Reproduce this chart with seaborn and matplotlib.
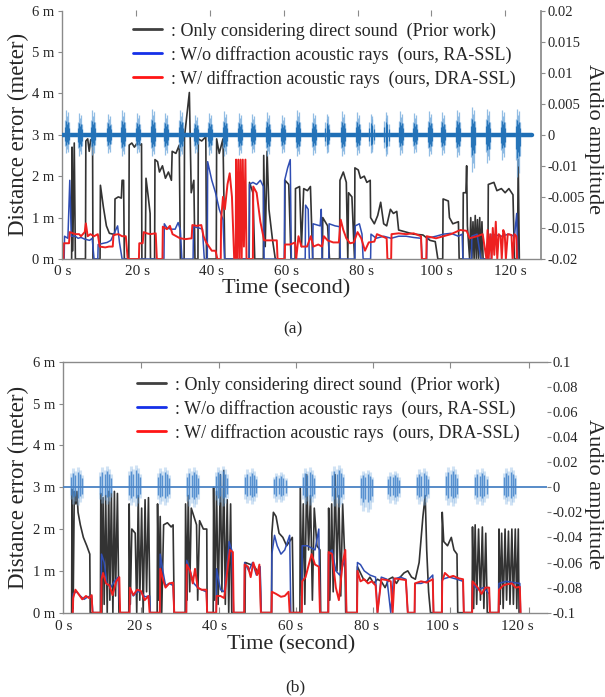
import numpy as np
import pandas as pd
import seaborn as sns
import matplotlib.pyplot as plt
from matplotlib.lines import Line2D

# ---- panel (a) : distance error (t [s], error [m]) ----
gray_a = [(2.5, 0), (2.6, 2.7), (2.8, 0.2), (3.2, 2.8), (3.5, 0),
          (6.2, 0), (6.3, 2.85), (6.8, 2.9), (7.2, 2.6), (7.6, 2.88), (8.1, 2.85), (8.2, 0),
          (10.1, 0), (10.2, 1.78), (11.0, 1.25), (11.8, 0.8), (12.6, 0.62), (13.6, 0.6), (14.0, 0.58),
          (14.1, 1.45), (15.0, 1.5), (15.8, 1.47), (16.0, 1.9), (16.4, 1.9), (16.6, 0),
          (17.8, 0), (17.9, 2.75), (18.6, 2.8), (19.3, 2.7), (20.0, 2.8), (20.7, 2.75), (21.2, 2.78), (21.3, 0),
          (22.2, 0), (22.4, 1.95), (23.0, 1.5), (23.5, 1.1), (23.6, 0),
          (24.7, 0), (24.8, 2.4), (25.5, 2.35), (26.0, 2.1), (26.8, 2.25), (27.6, 1.95), (28.4, 2.1),
          (29.2, 1.9), (29.4, 2.6), (30.4, 2.55), (31.3, 2.75), (31.6, 0),
          (32.6, 0), (32.7, 2.95), (33.5, 3.6), (34.0, 4.02), (34.5, 1.6), (35.2, 1.9), (35.5, 0),
          (36.3, 0), (36.4, 2.9), (37.3, 2.85), (38.4, 2.95), (38.6, 0),
          (41.2, 0), (41.3, 2.9), (42.0, 2.55), (43.0, 2.9), (43.5, 0),
          (50.0, 0), (50.1, 1.85), (51.0, 1.6), (51.5, 0),
          (53.8, 0), (53.9, 2.5), (54.3, 0.3), (54.8, 2.6), (55.3, 1.2), (56.2, 0.5), (57.0, 0),
          (59.5, 0), (59.6, 1.9), (60.6, 1.8), (61.2, 0),
          (62.3, 0), (62.4, 1.7), (63.5, 1.75), (64.0, 0.3), (64.6, 1.7), (65.6, 1.65), (66.4, 1.75), (67.0, 0),
          (69.6, 0), (69.7, 1.0), (71.0, 0.8), (71.5, 0),
          (74.2, 0), (74.3, 1.9), (75.2, 2.1), (76.0, 1.85), (76.4, 0), (76.6, 1.6), (77.5, 1.5), (78.2, 0),
          (78.3, 2.2), (79.2, 2.15), (79.8, 1.95), (80.8, 2.0), (81.5, 1.85), (82.4, 1.9), (82.5, 1.0),
          (83.5, 0.85), (84.4, 1.05), (85.2, 1.37), (86.0, 0.85), (86.8, 0.8), (87.8, 1.2),
          (88.6, 1.1), (89.5, 1.15), (90.0, 0.7), (92.0, 0.65), (94.0, 0.6), (96.5, 0.58), (98.4, 0.45),
          (99.8, 0.42), (100.5, 0),
          (101.8, 0), (101.9, 1.45), (103.3, 1.4), (103.6, 1.0), (104.5, 0.85), (106.0, 0.9), (106.2, 0),
          (107.2, 0), (107.3, 1.6), (108.0, 1.6), (108.2, 2.25), (108.4, 0.8), (109.0, 0), (109.3, 1.0),
          (109.6, 0), (109.9, 0.9), (110.2, 0), (110.5, 1.05), (110.8, 0), (111.1, 0.95), (111.4, 0),
          (111.7, 1.0), (112.0, 0), (112.3, 0.9), (112.6, 0),
          (113.9, 0), (114.0, 1.8), (115.5, 1.85), (116.3, 1.65), (117.5, 1.7), (118.5, 1.6), (119.5, 1.7),
          (120.6, 1.55), (121.0, 0), (121.8, 0), (122.0, 2.4), (122.3, 0)]

blue_a = [(0.5, 0), (0.6, 0.55), (1.5, 0.5), (2.0, 1.9), (2.4, 0.55), (3.5, 0.55), (4.2, 0.5), (5.0, 0.52),
          (6.0, 0.48), (7.3, 0.45), (8.0, 0.5), (8.5, 0),
          (9.5, 0), (9.6, 0.35), (11.0, 0.38), (12.0, 0.4), (13.0, 0.45), (14.8, 0.8), (15.3, 0.4), (16.0, 0),
          (27.2, 0), (27.3, 0.85), (28.0, 0.75), (29.0, 0.72), (30.2, 0.72), (31.0, 0.88), (31.6, 0.7), (32.0, 0),
          (35.0, 0), (35.1, 0.78), (36.5, 0.75), (37.5, 0.72), (38.0, 0),
          (38.8, 0), (38.9, 2.35), (40.0, 1.9), (41.0, 1.6), (42.0, 1.2), (43.0, 0.95), (43.4, 0),
          (50.0, 0), (50.1, 1.8), (51.0, 1.85), (52.0, 1.8), (53.0, 1.9), (53.8, 1.75), (54.0, 0),
          (59.4, 0), (59.5, 1.9), (60.3, 2.2), (61.0, 2.4), (61.3, 0),
          (65.0, 0), (65.1, 1.3), (65.8, 1.2), (66.1, 0),
          (67.0, 0), (67.1, 0.85), (69.0, 0.8), (69.3, 1.2), (69.5, 0),
          (71.3, 0), (71.4, 0.85), (73.0, 0.8), (74.2, 0.78), (74.4, 0),
          (78.3, 0), (78.4, 0.8), (79.5, 0.85), (80.2, 0.6), (80.5, 0),
          (82.5, 0), (82.6, 0.6), (84.0, 0.5), (86.0, 0.55), (88.0, 0.5), (90.0, 0.55), (92.0, 0.55),
          (94.0, 0.52), (96.0, 0.5), (96.3, 0),
          (97.5, 0), (97.6, 0.5), (100.0, 0.55), (102.0, 0.6), (104.0, 0.62), (106.0, 0.55), (107.0, 0.6), (107.2, 0),
          (109.5, 0), (109.6, 0.55), (111.0, 0.6), (112.0, 0),
          (114.8, 0), (115.0, 0.6), (117.5, 0.55), (119.5, 0.6), (121.0, 0.55), (121.6, 1.1), (121.9, 0)]

red_a = [(0.3, 0), (0.4, 0.38), (1.8, 0.38), (2.0, 0.65), (3.5, 0.6), (4.5, 0.6), (5.0, 0.55), (6.0, 0.65),
         (6.3, 0.86), (6.8, 0.55), (7.5, 0.6), (8.5, 0.55), (9.5, 0.6), (10.0, 0.3), (11.5, 0.28), (12.5, 0.3),
         (13.5, 0.3), (13.7, 0.58), (15.0, 0.6), (16.0, 0.55), (17.0, 0.55), (17.5, 0),
         (20.5, 0), (20.6, 0.38), (21.5, 0.38), (21.8, 0.65), (22.6, 0.62), (23.5, 0.6), (25.0, 0.62), (25.3, 0),
         (26.8, 0), (26.9, 0.78), (28.0, 0.72), (28.8, 0.8), (29.5, 0.6), (30.5, 0.55), (31.5, 0.5), (33.0, 0.48),
         (34.6, 0.5), (34.8, 0.82), (36.0, 0.8), (37.2, 0.82), (37.8, 0.55), (38.5, 0.4), (40.0, 0.2), (41.0, 0.2),
         (41.5, 0),
         (42.4, 0), (42.5, 0.95), (43.0, 1.5), (43.5, 1.2), (44.2, 1.8), (44.8, 2.07), (45.4, 1.5), (46.0, 0),
         (46.4, 0), (46.5, 2.4), (46.8, 0), (47.1, 2.4), (47.4, 0), (47.7, 2.4), (48.0, 0), (48.3, 2.4),
         (48.6, 0.3), (49.0, 2.4), (49.3, 0),
         (51.0, 0), (51.1, 1.75), (52.0, 1.6), (53.0, 0.9), (54.0, 0.45), (55.5, 0.45), (57.4, 0.45), (57.6, 0),
         (59.5, 0), (59.6, 0.35), (61.0, 0.35), (62.3, 0.4), (62.6, 0), (63.2, 0.55), (64.0, 0.3), (65.5, 0.3),
         (66.5, 0.55), (67.2, 0.3), (68.5, 0.35), (69.5, 0.3), (70.0, 0.55), (71.0, 0.45), (72.5, 0.4),
         (74.0, 0.4), (74.5, 0.95), (75.2, 0.7), (76.0, 0.5), (77.0, 0.38), (78.0, 0.4), (79.0, 0.65),
         (80.0, 0.5), (81.0, 0.2), (82.0, 0.4), (83.5, 0.42), (84.2, 0.6), (85.5, 0.55), (86.8, 0.5), (87.0, 0),
         (88.0, 0), (88.1, 0.6), (90.0, 0.62), (92.0, 0.6), (94.0, 0.62), (96.0, 0.55), (96.2, 0),
         (97.4, 0), (97.5, 0.55), (100.0, 0.5), (102.0, 0.55), (104.0, 0.6), (106.5, 0.7), (108.2, 0.68),
         (109.0, 0.5), (111.0, 0.55), (112.5, 0.6), (113.5, 0),
         (113.8, 0.7), (114.1, 0), (114.5, 0.6), (114.9, 0), (115.2, 0.75), (115.6, 0.1), (116.0, 0.9),
         (116.4, 0), (116.8, 0.6), (117.3, 0.55), (117.6, 0), (118.0, 0.7), (118.4, 0.6), (118.7, 0),
         (119.2, 0.6), (120.2, 0.58), (120.5, 0), (121.0, 0.6), (121.5, 0.55), (121.7, 0)]

# audio (a): burst centres [s], upper / lower peak amplitude
audio_a_t = [1.2, 4.7, 8.3, 12.5, 16.3, 20.3, 24.4, 27.9, 31.9, 35.9, 39.5, 43.5, 47.5, 51.1, 55.1, 59.1,
             63.1, 67.4, 71.0, 75.2, 79.2, 82.8, 86.8, 90.8, 94.4, 98.4, 102.0, 106.0, 110.0, 114.0, 118.0, 122.1]
audio_a_hi = [0.004, 0.0035, 0.004, 0.0033, 0.004, 0.0035, 0.0042, 0.0035, 0.004, 0.0032, 0.0035, 0.0038,
              0.0035, 0.0033, 0.0036, 0.0032, 0.004, 0.0035, 0.0033, 0.0038, 0.0036, 0.0033, 0.0036, 0.0038,
              0.0035, 0.0038, 0.0036, 0.004, 0.0045, 0.0042, 0.004, 0.0042]
audio_a_lo = [0.003, 0.0035, 0.0032, 0.003, 0.0035, 0.003, 0.0035, 0.0032, 0.0035, 0.003, 0.0032, 0.0035,
              0.0032, 0.003, 0.0035, 0.003, 0.0035, 0.0032, 0.003, 0.0035, 0.0033, 0.003, 0.0035, 0.0033,
              0.003, 0.0035, 0.0033, 0.0036, 0.006, 0.0045, 0.004, 0.0068]
audio_a_off = [-0.6, -0.3, -0.05, 0.2, 0.5]
audio_a_rel = [0.6, 1.0, 0.75, 0.9, 0.5]
audio_a_span = (0.0, 125.8)

# ---- panel (b) ----
gray_b = [(2.2, 0), (2.3, 2.95), (2.6, 0.1), (2.9, 2.9), (3.3, 2.6), (3.6, 2.9), (3.9, 2.4), (4.5, 2.1),
          (5.3, 1.8), (6.2, 1.6), (7.0, 1.4), (7.1, 0),
          (9.8, 0), (9.9, 2.85), (10.2, 0), (10.5, 2.75), (10.8, 0.2), (11.2, 2.8), (11.6, 0), (12.0, 2.9),
          (12.3, 0.3), (12.7, 2.85), (13.1, 0), (13.5, 2.9), (13.8, 0.4), (14.3, 2.85), (14.7, 0),
          (17.3, 0), (17.4, 2.6), (17.7, 0.2), (18.1, 2.0), (19.0, 1.9), (19.4, 0), (19.8, 2.8), (20.2, 0.3),
          (20.7, 2.5), (21.1, 0), (21.6, 2.7), (22.0, 0.5), (22.5, 2.75), (22.9, 0),
          (24.8, 0), (24.9, 2.6), (25.2, 0.3), (25.6, 2.3), (26.0, 0), (26.5, 2.1), (27.5, 2.15), (28.5, 2.05),
          (29.0, 2.1), (29.3, 0),
          (32.2, 0), (32.3, 2.6), (32.7, 0.3), (33.0, 2.8), (33.4, 0.5), (33.8, 2.5), (34.5, 2.3), (35.2, 2.1),
          (35.5, 0.3), (36.0, 2.2), (37.0, 2.0), (37.9, 2.0), (38.0, 0),
          (39.6, 0), (39.7, 3.0), (40.0, 0.3), (40.5, 2.9), (40.9, 0.2), (41.5, 3.3), (41.9, 0.5), (42.4, 3.4),
          (42.8, 0.2), (43.3, 2.7), (43.7, 0), (44.2, 2.6), (44.5, 0),
          (48.0, 0), (48.1, 1.2), (49.5, 1.15), (50.5, 1.1), (52.0, 0.9), (52.2, 0),
          (55.0, 0), (55.1, 1.9), (55.5, 2.4), (56.2, 2.3), (57.0, 1.9), (58.0, 1.8), (59.0, 1.6), (60.5, 1.8),
          (60.8, 0),
          (62.5, 0), (62.6, 3.0), (63.0, 0.4), (63.4, 2.6), (63.8, 0.2), (64.3, 3.3), (64.8, 1.5), (65.3, 2.8),
          (65.8, 0.3), (66.3, 2.5), (67.0, 1.6), (67.8, 1.5), (68.0, 0),
          (70.0, 0), (70.1, 2.5), (70.4, 0.3), (70.9, 2.6), (71.3, 0.5), (71.8, 3.3), (72.3, 1.0), (72.8, 2.8),
          (73.3, 0.4), (73.8, 2.6), (74.4, 1.2), (74.6, 0),
          (77.6, 0), (77.7, 1.1), (78.5, 0.95), (79.3, 0.8), (80.2, 0.75), (81.0, 0.85), (82.0, 0.7),
          (83.0, 0.8), (84.0, 0.75), (85.0, 0.6), (86.0, 0.8), (87.0, 0.85), (88.0, 0.7), (89.0, 0.85),
          (90.0, 0.95), (91.0, 1.0), (92.0, 0.85), (93.0, 0.8), (94.0, 1.2), (95.0, 2.3), (95.6, 2.8),
          (96.0, 1.5), (96.5, 0.5), (97.0, 0),
          (100.0, 0), (100.1, 2.4), (100.5, 1.7), (101.5, 1.6), (102.5, 1.8), (103.2, 1.5), (104.0, 1.4), (104.2, 0),
          (108.0, 0), (108.1, 2.05), (108.4, 0.1), (108.8, 2.1), (109.2, 0.2), (109.7, 2.0), (110.2, 0.3),
          (110.7, 2.05), (111.1, 0.1), (111.6, 1.9), (112.0, 0),
          (115.0, 0), (115.1, 2.0), (115.4, 0.2), (115.8, 1.9), (116.2, 0.1), (116.7, 2.0), (117.1, 0.3),
          (117.6, 1.95), (118.0, 0.2), (118.5, 2.0), (118.9, 0.2), (119.4, 2.0), (119.8, 0.1), (120.2, 2.0),
          (120.4, 0)]

blue_b = [(2.5, 0), (2.6, 0.45), (3.5, 0.5), (4.5, 0.4), (5.5, 0.32), (6.5, 0.38), (7.5, 0.4), (7.8, 0),
          (10.0, 0), (10.1, 1.4), (10.8, 1.2), (11.5, 0.7), (12.5, 0.6), (13.5, 0.75), (14.5, 0.85), (15.0, 0),
          (17.5, 0), (17.6, 0.6), (18.5, 0.4), (19.5, 0.5), (20.5, 0.5), (21.5, 0.38), (22.8, 0.4), (23.0, 0),
          (25.5, 0), (25.6, 1.4), (26.3, 1.0), (27.0, 0.65), (28.0, 0.7), (29.0, 0.65), (29.3, 0),
          (32.5, 0), (32.6, 1.25), (33.5, 1.0), (34.5, 0.7), (35.5, 0.6), (36.5, 0.55), (37.8, 0.5), (38.0, 0),
          (40.4, 0), (40.5, 1.05), (41.5, 0.55), (42.5, 0.5), (43.5, 1.3), (43.8, 1.7), (44.5, 1.5), (45.0, 0),
          (47.8, 0), (47.9, 1.2), (49.0, 1.0), (50.0, 1.2), (51.0, 0.9), (52.0, 1.1), (52.3, 0),
          (55.0, 0), (55.1, 1.4), (55.8, 1.85), (56.5, 1.6), (57.5, 1.4), (58.5, 1.5), (59.8, 1.85), (60.1, 0),
          (63.0, 0), (63.1, 1.6), (64.5, 1.6), (65.5, 1.55), (66.5, 1.5), (67.5, 2.0), (67.8, 0),
          (70.0, 0), (70.1, 1.4), (71.0, 1.5), (72.0, 1.0), (73.0, 0.9), (74.5, 1.3), (74.8, 0),
          (77.6, 0), (77.7, 1.2), (78.5, 1.15), (79.5, 1.0), (81.0, 0.9), (82.5, 0.85), (83.0, 0), (84.0, 0.85),
          (85.5, 0.8), (86.5, 0), (87.2, 0.8), (89.0, 0.85), (90.5, 0.8), (91.0, 0),
          (92.8, 0), (92.9, 0.7), (94.5, 0.7), (96.0, 0.75), (97.6, 0.9), (97.8, 0),
          (100.0, 0), (100.1, 0.8), (102.0, 0.85), (104.0, 0.8), (105.6, 0.75), (105.8, 0),
          (108.0, 0), (108.1, 0.7), (109.5, 0.55), (111.0, 0.6), (112.5, 0.45), (112.7, 0),
          (115.0, 0), (115.1, 0.7), (117.0, 0.75), (119.0, 0.72), (120.6, 0.7), (120.8, 0)]

red_b = [(2.5, 0), (2.6, 0.35), (3.2, 0.55), (4.0, 0.45), (5.0, 0.32), (6.0, 0.4), (6.8, 0.35), (7.5, 0.42), (7.7, 0),
         (10.0, 0), (10.1, 0.8), (10.5, 0.95), (11.3, 0.7), (12.2, 0.65), (13.0, 0.42), (14.0, 0.75), (14.8, 0.85), (15.0, 0),
         (17.5, 0), (17.6, 0.6), (18.5, 0.42), (19.5, 0.55), (20.5, 0.52), (21.5, 0.3), (22.5, 0.4), (22.8, 0),
         (25.5, 0), (25.6, 1.05), (26.3, 0.8), (27.0, 0.6), (28.0, 0.7), (29.0, 0.72), (29.3, 0),
         (32.5, 0), (32.6, 1.15), (33.5, 1.0), (34.2, 0.7), (34.8, 1.05), (35.5, 0.6), (36.5, 0.55), (37.8, 0.55), (38.0, 0),
         (40.4, 0), (40.5, 0.4), (41.5, 0.4), (42.5, 0.35), (43.2, 0.9), (44.0, 1.5), (44.8, 1.45), (45.0, 0),
         (47.8, 0), (47.9, 1.15), (48.8, 1.1), (49.5, 0.85), (50.2, 1.2), (51.2, 0.9), (51.8, 1.15), (52.2, 0),
         (55.0, 0), (55.1, 0.5), (56.2, 0.45), (57.5, 0.38), (58.5, 0.4), (59.5, 0.5), (59.8, 0),
         (63.0, 0), (63.1, 0.75), (64.0, 0.85), (65.0, 1.2), (65.6, 1.4), (66.5, 1.15), (67.5, 1.1), (67.8, 0),
         (70.0, 0), (70.1, 1.45), (71.0, 1.4), (72.0, 0.6), (72.8, 0.3), (73.8, 1.2), (74.5, 1.5), (74.8, 0),
         (77.6, 0), (77.7, 1.0), (78.5, 0.75), (79.5, 0.8), (80.5, 0.7), (81.5, 0.75), (82.5, 0.65), (83.0, 0),
         (84.0, 0.8), (85.5, 0.78), (86.5, 0.75), (87.0, 0), (87.5, 0.82), (89.0, 0.8), (90.5, 0.78), (91.0, 0),
         (92.8, 0), (92.9, 0.7), (94.5, 0.75), (96.0, 0.72), (97.6, 0.8), (97.8, 0),
         (100.0, 0), (100.1, 0.75), (100.8, 0.95), (102.0, 0.85), (103.0, 0.88), (104.5, 0.82), (105.6, 0.8), (105.8, 0),
         (108.0, 0), (108.1, 0.75), (109.5, 0.6), (110.5, 0.45), (111.5, 0.6), (112.5, 0.6), (112.7, 0),
         (115.0, 0), (115.1, 0.55), (116.2, 0.65), (117.2, 0.68), (118.5, 0.7), (119.5, 0.6), (120.6, 0.62), (120.8, 0)]

audio_b_t = [3.6, 11.3, 18.9, 26.6, 34.3, 41.9, 49.6, 57.3, 64.9, 72.6, 80.2, 87.4, 95.0, 102.7, 110.4, 118.0]
audio_b_hi = [0.016, 0.017, 0.018, 0.016, 0.016, 0.017, 0.015, 0.012, 0.016, 0.018, 0.014, 0.013, 0.015, 0.017, 0.015, 0.016]
audio_b_lo = [0.014, 0.013, 0.015, 0.014, 0.016, 0.015, 0.013, 0.012, 0.014, 0.016, 0.02, 0.013, 0.014, 0.015, 0.014, 0.014]
audio_b_off = [-1.6, -1.0, -0.4, 0.2, 0.8, 1.4]
audio_b_rel = [0.7, 0.95, 0.8, 1.0, 0.85, 0.6]
audio_b_span = (0.0, 127.7)

legend_labels = [": Only considering direct sound  (Prior work)",
                 ": W/o diffraction acoustic rays  (ours, RA-SSL)",
                 ": W/ diffraction acoustic rays  (ours, DRA-SSL)"]

C_GRAY, C_BLUE, C_RED = "#333333", "#2f4db3", "#ee2020"
C_SPINE = "#8a8a8a"
W, H = 605, 697

sns.set_theme(style="white")
plt.rcParams['font.family'] = ['Liberation Serif', 'DejaVu Serif']

fig = plt.figure(figsize=(W / 100, H / 100), dpi=100)


def fx(px):
    return px / W


def fy(py):
    return 1 - py / H


def series(ax, pts, color, lw):
    t, m = zip(*pts)
    sns.lineplot(x=list(t), y=list(m), ax=ax, color=color, lw=lw,
                 estimator=None, sort=False, legend=False)


def audio(ax2, centres, hi, lo, off, rel, color, lw, alpha):
    for c, h, l in zip(centres, hi, lo):
        xs = [c + o for o in off]
        ax2.vlines(xs, [-l * r for r in rel], [h * r for r in rel], color=color, lw=lw, alpha=alpha)


def panel(rect, xmax, gray, blue, red, top_ticks, leg_xy, xpad):
    ax = fig.add_axes(rect)
    series(ax, gray, C_GRAY, 1.2)
    series(ax, blue, C_BLUE, 1.1)
    series(ax, red, C_RED, 1.4)
    ax.set_xlim(0, xmax)
    ax.set_ylim(0, 6)
    ax.set_yticks(range(7))
    ax.set_yticklabels([f"{v} m" for v in range(7)])
    ax.set_xticks(range(0, 121, 20))
    ax.set_xticklabels([f"{v} s" for v in range(0, 121, 20)])
    ax.tick_params(axis='x', bottom=True, length=0, labelsize=11, pad=xpad)
    ax.tick_params(axis='y', left=True, direction='out', length=3, width=0.8, color=C_SPINE,
                   labelsize=10.5, pad=3)
    ax.set_xlabel("")
    ax.set_ylabel("")
    for s in ax.spines.values():
        s.set_color(C_SPINE)
        s.set_linewidth(1.0)
    ax.spines['right'].set_visible(False)
    sec = ax.secondary_xaxis('top')
    sec.set_xticks(top_ticks)
    sec.set_xticklabels([])
    sec.tick_params(direction='in', length=4, width=0.8, color=C_SPINE)
    sec.spines['top'].set_visible(False)
    handles = [Line2D([], [], color=c, lw=2.0) for c in ("#404040", "#1530e8", "#ff1515")]
    ax.legend(handles, legend_labels, loc='upper left', bbox_to_anchor=leg_xy,
              bbox_transform=fig.transFigure, frameon=False, fontsize=13,
              handlelength=1.6, handletextpad=0.5, labelspacing=0.33, borderpad=0, borderaxespad=0)
    ax2 = ax.twinx()
    ax2.set_zorder(ax.get_zorder() + 1)
    for s in ax2.spines.values():
        s.set_visible(False)
    return ax, ax2


# ---------------- (a) ----------------
ax_a, ax2_a = panel([fx(62.3), fy(259), fx(541 - 62.3), (259 - 10.5) / H], 128.1,
                    gray_a, blue_a, red_a, [19.7, 39.6, 59.3, 79.0, 98.6, 118.6],
                    (fx(133), fy(22.5)), 4.0)
ax_a.spines['top'].set_visible(False)
sns.lineplot(x=list(audio_a_span), y=[0, 0], ax=ax2_a, color="#1f6fb6", lw=3.2, legend=False)
audio(ax2_a, audio_a_t, audio_a_hi, audio_a_lo, audio_a_off, audio_a_rel, "#6fa8dc", 0.9, 0.75)
audio(ax2_a, audio_a_t, [h * 0.55 for h in audio_a_hi], [l * 0.55 for l in audio_a_lo],
      audio_a_off, audio_a_rel, "#1f6fb6", 0.9, 0.9)
ax2_a.set_ylim(-0.02, 0.02)
ax2_a.set_yticks([0.02, 0.015, 0.01, 0.005, 0, -0.005, -0.01, -0.015, -0.02])
ax2_a.set_yticklabels(["0.02", "0.015", "0.01", "0.005", "0", "-0.01", "-0.005", "-0.015", "-0.02"])
ax2_a.spines['right'].set_visible(True)
ax2_a.spines['right'].set_color(C_SPINE)
ax2_a.tick_params(axis='y', right=True, direction='out', length=3, width=0.8, color=C_SPINE,
                  labelsize=10.5, pad=1.5)

# ---------------- (b) ----------------
ax_b, ax2_b = panel([fx(63.3), fy(612.7), fx(546.7 - 63.3), (612.7 - 361.7) / H], 127.7,
                    gray_b, blue_b, red_b, [20.6, 41.1, 61.6, 81.9, 102.2, 123.0],
                    (fx(137), fy(376.5)), 5.0)
sec_b = ax_b.secondary_xaxis('bottom')
sec_b.set_xticks([20.6, 41.1, 61.6, 81.9, 102.2, 123.0])
sec_b.set_xticklabels([])
sec_b.tick_params(direction='in', length=4, width=0.8, color=C_SPINE)
sec_b.spines['bottom'].set_visible(False)
audio(ax2_b, audio_b_t, audio_b_hi, audio_b_lo, audio_b_off, audio_b_rel, "#7aaee0", 2.2, 0.35)
audio(ax2_b, audio_b_t, [h * 0.75 for h in audio_b_hi], [l * 0.6 for l in audio_b_lo],
      audio_b_off, audio_b_rel, "#3a7dc8", 1.0, 0.8)
sns.lineplot(x=list(audio_b_span), y=[0, 0], ax=ax2_b, color="#4a82c4", lw=1.3, legend=False)
ax2_b.set_ylim(-0.1, 0.1)
yt = [0.1, 0.08, 0.06, 0.04, 0.02, 0, -0.02, -0.04, -0.06, -0.08, -0.1]
ax2_b.set_yticks(yt)
ax2_b.set_yticklabels(["0.1", "0.08", "0.06", "0.04", "0.02", "0", "-0.02", "-0.04", "-0.06", "-0.08", "-0.1"])
ax2_b.tick_params(axis='y', right=True, direction='out', length=3, width=0.8, color=C_SPINE,
                  labelsize=10.5, pad=1.5)

# ---------------- labels ----------------
fig.text(fx(18.3), fy(134), "Distance error (meter)", rotation=90, ha='center', va='center', fontsize=16.5)
fig.text(fx(18.3), fy(487), "Distance error (meter)", rotation=90, ha='center', va='center', fontsize=16.5)
fig.text(fx(594), fy(139), "Audio amplitude", rotation=270, ha='center', va='center', fontsize=16)
fig.text(fx(594), fy(494), "Audio amplitude", rotation=270, ha='center', va='center', fontsize=16)
fig.text(fx(286), fy(289), "Time (second)", ha='center', va='center', fontsize=16)
fig.text(fx(291), fy(645), "Time (second)", ha='center', va='center', fontsize=16)
fig.text(fx(293), fy(329), "(a)", ha='center', va='center', fontsize=12.5)
fig.text(fx(295), fy(687), "(b)", ha='center', va='center', fontsize=12.5)

fig.savefig("out.png", dpi=100)
